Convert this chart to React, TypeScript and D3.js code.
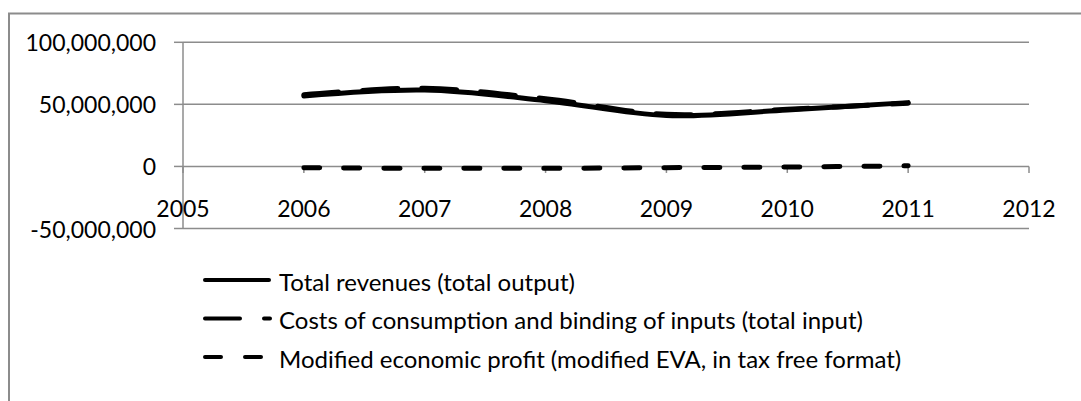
import { useMemo } from "react";
import * as d3 from "d3";

const WIDTH = 1081;
const HEIGHT = 401;

const years = [2006, 2007, 2008, 2009, 2010, 2011];
const totalRevenues = [56.7e6, 61.5e6, 53.0e6, 41.0e6, 45.5e6, 51.4e6];
const totalCosts = [57.7e6, 63.0e6, 54.5e6, 42.0e6, 46.0e6, 50.9e6];
const modifiedEva = [-1.0e6, -1.5e6, -1.5e6, -1.0e6, -0.5e6, 0.5e6];

const xTicks = [2005, 2006, 2007, 2008, 2009, 2010, 2011, 2012];
const yTicks = [-50e6, 0, 50e6, 100e6];

const seriesNames = [
  "Total revenues (total output)",
  "Costs of consumption and binding of inputs (total input)",
  "Modified economic profit (modified EVA, in tax free format)",
];
const dashes = ["none", "35 24", "16 24"];

const FONT = "Lato, 'Open Sans', sans-serif";
const GRID = "#8c8c8c";

const fmt = d3.formatLocale({
  decimal: ".",
  thousands: ",",
  grouping: [3],
  currency: ["", ""],
  minus: "-",
}).format(",");

const App = () => {
  const plot = { left: 183, right: 1029, top: 42.3, bottom: 228.5 };

  const xScale = useMemo(
    () => d3.scaleLinear().domain([2005, 2012]).range([plot.left, plot.right]),
    []
  );
  const yScale = useMemo(
    () => d3.scaleLinear().domain([-50e6, 100e6]).range([plot.bottom, plot.top]),
    []
  );

  const line = d3
    .line<number>()
    .x((_, i) => xScale(years[i]))
    .y((d) => yScale(d))
    .curve(d3.curveCardinal.tension(0));

  const allSeries = [totalRevenues, totalCosts, modifiedEva];
  const zeroY = yScale(0);

  return (
    <svg
      width={WIDTH}
      height={HEIGHT}
      style={{ position: "absolute", left: 0, top: 0, background: "#fff" }}
    >
      <rect x={9} y={13.5} width={1200} height={600} fill="#fff" stroke={GRID} strokeWidth={2} />

      {/* gridlines + y ticks */}
      {yTicks.map((v, i) => (
        <g key={i}>
          <line x1={plot.left} x2={plot.right} y1={yScale(v)} y2={yScale(v)} stroke={GRID} strokeWidth={1.5} />
          <line x1={plot.left - 9} x2={plot.left} y1={yScale(v)} y2={yScale(v)} stroke={GRID} strokeWidth={1.5} />
          <text
            x={plot.left - 27}
            y={yScale(v)}
            textAnchor="end"
            dominantBaseline="central"
            fontFamily={FONT}
            fontSize={23}
            fill="#000"
          >
            {fmt(v)}
          </text>
        </g>
      ))}
      <line x1={plot.left} x2={plot.left} y1={plot.top} y2={plot.bottom} stroke={GRID} strokeWidth={1.5} />

      {/* x ticks at zero line */}
      {xTicks.map((t, i) => (
        <g key={i}>
          <line x1={xScale(t)} x2={xScale(t)} y1={zeroY} y2={zeroY + 6.5} stroke={GRID} strokeWidth={1.5} />
          <text
            x={xScale(t)}
            y={208}
            textAnchor="middle"
            dominantBaseline="central"
            fontFamily={FONT}
            fontSize={23}
            fill="#000"
          >
            {t}
          </text>
        </g>
      ))}

      {allSeries.map((s, i) => (
        <path
          key={i}
          d={line(s) || ""}
          fill="none"
          stroke="#000"
          strokeWidth={5}
          strokeDasharray={dashes[i]}
          strokeLinecap="round"
          strokeLinejoin="round"
        />
      ))}

      {/* legend */}
      {seriesNames.map((name, i) => {
        const y = 280 + i * 38.5;
        return (
          <g key={i}>
            <line
              x1={205}
              x2={i === 0 ? 269 : 270}
              y1={y}
              y2={y}
              stroke="#000"
              strokeWidth={4}
              strokeDasharray={dashes[i]}
              strokeLinecap="round"
            />
            <text x={279} y={y + 1} dominantBaseline="central" fontFamily={FONT} fontSize={24} fill="#000">
              {name}
            </text>
          </g>
        );
      })}
    </svg>
  );
};

export default App;
